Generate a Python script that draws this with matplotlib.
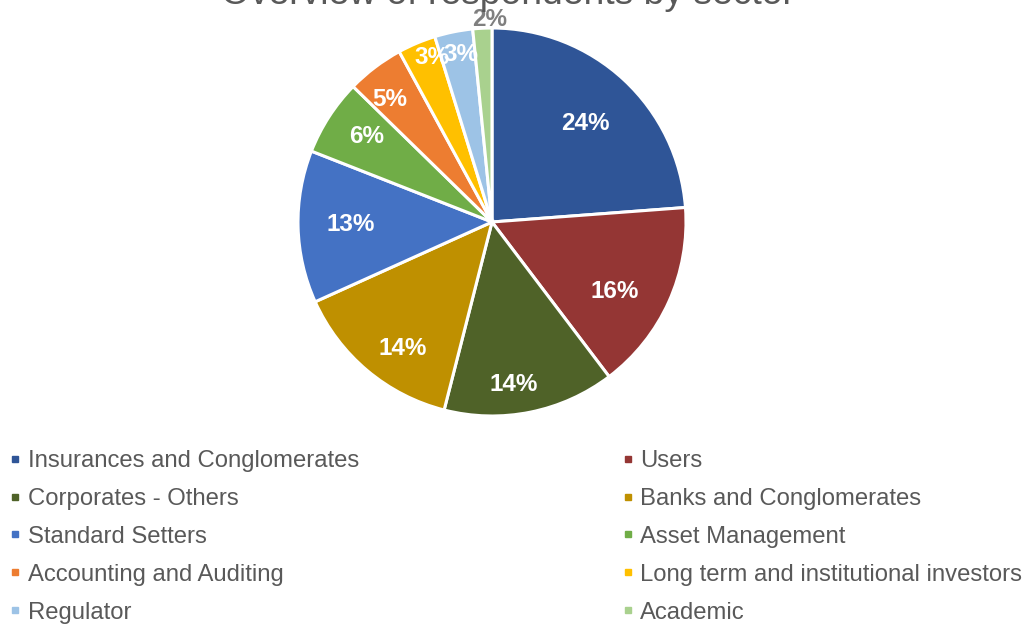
import numpy as np
import matplotlib.pyplot as plt
from matplotlib.lines import Line2D

plt.rcParams['font.family'] = ['Liberation Sans', 'DejaVu Sans']

# respondents per sector (63 in total)
sectors = ["Insurances and Conglomerates", "Users", "Corporates - Others",
           "Banks and Conglomerates", "Standard Setters", "Asset Management",
           "Accounting and Auditing", "Long term and institutional investors",
           "Regulator", "Academic"]
counts = [15, 10, 9, 9, 8, 4, 3, 2, 2, 1]
colors = ["#2F5597", "#943634", "#4F6228", "#BF9000", "#4472C4",
          "#70AD47", "#ED7D31", "#FFC000", "#9DC3E6", "#A9D18E"]

# label placement: distance (fraction of radius) and angle shift from the wedge middle
lab_r = [0.71, 0.72, 0.83, 0.79, 0.73, 0.79, 0.83, 0.915, 0.89, 1.055]
lab_dth = [0, -4.3, -3.6, 4.3, -1.4, -2.2, 2.1, -3.1, -1.1, -2.3]

W, H = 1034, 624
fig = plt.figure(figsize=(W / 100, H / 100), dpi=100)
cx, cy, R = 492, 222, 194
ax = fig.add_axes([(cx - R) / W, (H - cy - R) / H, 2 * R / W, 2 * R / H])

wedges, texts, autotexts = ax.pie(counts, colors=colors, startangle=90, counterclock=False,
                                  autopct=lambda p: "%.0f%%" % p,
                                  wedgeprops=dict(edgecolor="white", linewidth=2.2))
ax.set_xlim(-1, 1)
ax.set_ylim(-1, 1)
ax.set_aspect("equal")

for w, t, r, d in zip(wedges, autotexts, lab_r, lab_dth):
    th = np.deg2rad((w.theta1 + w.theta2) / 2 + d)
    t.set_position((r * np.cos(th), r * np.sin(th)))
    t.set_fontsize(17.5)
    t.set_fontweight("bold")
    t.set_verticalalignment("center_baseline")
    t.set_color("white" if r < 1 else "#7F7F7F")
    t.set_clip_on(False)

fig.text(0.4915, 1 - 4.5 / H, "Overview of respondents by sector", ha="center",
         va="baseline", fontsize=26.8, color="#595959")

# legend in two columns, row-major order like the original
def make_legend(idx, x):
    handles = [Line2D([], [], marker="s", linestyle="", markersize=5,
                      color=colors[i]) for i in idx]
    lg = fig.legend(handles, [sectors[i] for i in idx], loc="upper left",
                    bbox_to_anchor=(x, 1 - 450 / H), frameon=False,
                    fontsize=17.2, labelcolor="#595959", handlelength=0.45,
                    handletextpad=0.3, labelspacing=0.665, borderaxespad=0,
                    borderpad=0)
    return lg

make_legend([0, 2, 4, 6, 8], 0.0095)
make_legend([1, 3, 5, 7, 9], 0.602)

fig.savefig("out.png", dpi=100)
